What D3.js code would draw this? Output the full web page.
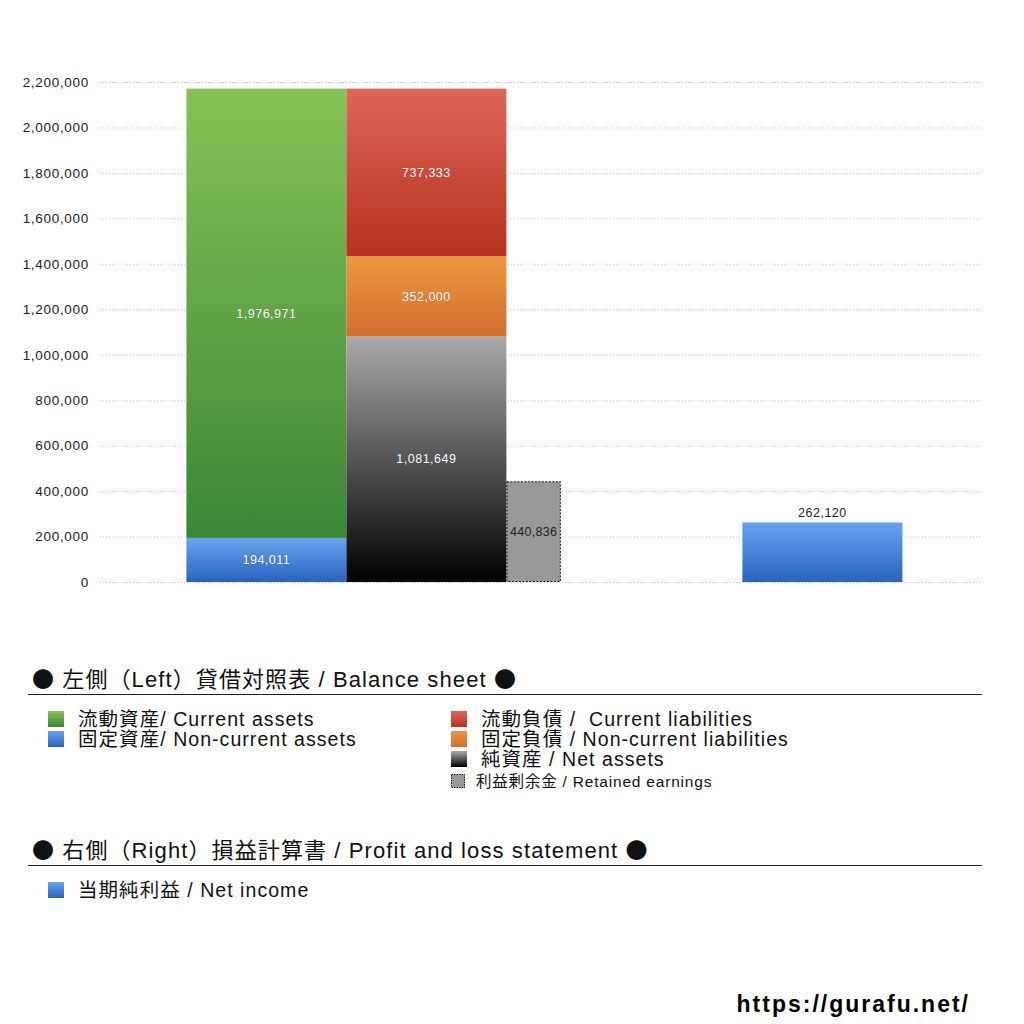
<!DOCTYPE html>
<html>
<head>
<meta charset="utf-8">
<script src="https://cdn.jsdelivr.net/npm/d3@7"></script>
<style>
    body { margin: 0; background: #fff; }
    svg { display: block; }
    text { font-family: "Liberation Sans", "Noto Sans CJK JP", sans-serif; white-space: pre; }
</style>
</head>
<body>
<svg id="chart" width="1024" height="1024"></svg>
<script>
// 値 (円)
const assetNames = ['固定資産', '流動資産'];
const assetValues = [194011, 1976971];
const liabilityNames = ['純資産', '固定負債', '流動負債'];
const liabilityValues = [1081649, 352000, 737333];
const retainedEarnings = 440836;
const netIncome = 262120;
const yTicks = [0, 200000, 400000, 600000, 800000, 1000000, 1200000, 1400000, 1600000, 1800000, 2000000, 2200000];

// 列の位置 (列単位)
const columns = {
    assets: { start: 0, width: 1 },
    liabilities: { start: 1, width: 1 },
    retained: { start: 2, width: 0.34 },
    income: { start: 3.475, width: 1 }
};

const gradients = {
    '流動資産': ['#86c257', '#3b8736'],
    '固定資産': ['#67a4f0', '#2b63bd'],
    '流動負債': ['#de665b', '#b7311d'],
    '固定負債': ['#e9993f', '#d36e2f'],
    '純資産': ['#aaaaaa', '#000000'],
    '当期純利益': ['#67a4f0', '#2b63bd']
};

const svg = d3.select('#chart');
const fmt = d3.format(',');

const y = d3.scaleLinear().domain([0, 2200000]).range([582, 82]);
const x = d3.scaleLinear().domain([-0.54, 4.96]).range([100, 980]);

// グラデーション
const defs = svg.append('defs');
Object.keys(gradients).forEach((k, i) => {
    const g = defs.append('linearGradient')
        .attr('id', 'grad' + i)
        .attr('x1', 0).attr('y1', 0).attr('x2', 0).attr('y2', 1);
    g.append('stop').attr('offset', '0%').attr('stop-color', gradients[k][0]);
    g.append('stop').attr('offset', '100%').attr('stop-color', gradients[k][1]);
    gradients[k].id = 'url(#grad' + i + ')';
});

// 目盛り線
const yAxis = d3.axisLeft(y)
    .tickValues(yTicks)
    .tickSize(-(980 - 100))
    .tickPadding(11)
    .tickFormat(fmt);
const axisG = svg.append('g')
    .attr('transform', 'translate(100,0)')
    .call(yAxis);
axisG.select('.domain').remove();
axisG.selectAll('.tick line')
    .attr('stroke', '#c8c8c8')
    .attr('stroke-dasharray', '1,2');
axisG.selectAll('.tick text')
    .attr('fill', '#222')
    .attr('font-family', '"Liberation Sans", sans-serif')
    .attr('font-size', 13.5)
    .attr('letter-spacing', 0.7);

// 積み上げ
const stackSegments = (names, values, col) => {
    let base = 0;
    return names.map((n, i) => {
        const seg = { name: n, value: values[i], y0: base, y1: base + values[i], col: col };
        base += values[i];
        return seg;
    });
};
const segments = stackSegments(assetNames, assetValues, columns.assets)
    .concat(stackSegments(liabilityNames, liabilityValues, columns.liabilities));

const barsG = svg.append('g');
barsG.selectAll('rect.seg')
    .data(segments)
    .enter().append('rect')
    .attr('class', 'seg')
    .attr('x', (d) => x(d.col.start))
    .attr('width', (d) => x(d.col.start + d.col.width) - x(d.col.start))
    .attr('y', (d) => y(d.y1))
    .attr('height', (d) => y(d.y0) - y(d.y1))
    .attr('fill', (d) => gradients[d.name].id);

barsG.selectAll('text.seg')
    .data(segments)
    .enter().append('text')
    .attr('class', 'seg')
    .attr('x', (d) => x(d.col.start + d.col.width / 2))
    .attr('y', (d) => y((d.y0 + d.y1) / 2))
    .attr('dy', '0.35em')
    .attr('text-anchor', 'middle')
    .attr('font-size', 12.5)
    .attr('letter-spacing', 0.5)
    .attr('fill', '#fff')
    .attr('stroke', 'rgba(0,0,0,0.25)')
    .attr('stroke-width', 0.6)
    .attr('paint-order', 'stroke')
    .text((d) => fmt(d.value));

// 利益剰余金
const rc = columns.retained;
barsG.append('rect')
    .attr('x', x(rc.start) + 0.5)
    .attr('width', x(rc.start + rc.width) - x(rc.start) - 1)
    .attr('y', y(retainedEarnings))
    .attr('height', y(0) - y(retainedEarnings) - 0.5)
    .attr('fill', '#999')
    .attr('stroke', '#111')
    .attr('stroke-dasharray', '2,1.5');
barsG.append('text')
    .attr('x', x(rc.start + rc.width / 2))
    .attr('y', y(retainedEarnings / 2))
    .attr('dy', '0.35em')
    .attr('text-anchor', 'middle')
    .attr('font-size', 12.5)
    .attr('letter-spacing', 0.3)
    .attr('fill', '#222')
    .text(fmt(retainedEarnings));

// 当期純利益
const ic = columns.income;
barsG.append('rect')
    .attr('x', x(ic.start))
    .attr('width', x(ic.start + ic.width) - x(ic.start))
    .attr('y', y(netIncome))
    .attr('height', y(0) - y(netIncome))
    .attr('fill', gradients['当期純利益'].id);
barsG.append('text')
    .attr('x', x(ic.start + ic.width / 2))
    .attr('y', y(netIncome) - 5)
    .attr('text-anchor', 'middle')
    .attr('font-size', 12.5)
    .attr('letter-spacing', 0.5)
    .attr('fill', '#222')
    .text(fmt(netIncome));

// 凡例
const legend = svg.append('g');
const dotFont = '"Noto Sans CJK JP", sans-serif';
const sectionTitle = (text, ty) => {
    const t = legend.append('text')
        .attr('x', 32).attr('y', ty)
        .attr('font-size', 22)
        .attr('letter-spacing', 1.1)
        .attr('fill', '#111');
    t.append('tspan').attr('font-family', dotFont).text('●');
    t.append('tspan').text(' ' + text + ' ');
    t.append('tspan').attr('font-family', dotFont).text('●');
    legend.append('line')
        .attr('x1', 28).attr('x2', 982)
        .attr('y1', ty + 7.5).attr('y2', ty + 7.5)
        .attr('stroke', '#222').attr('stroke-width', 1);
};
sectionTitle('左側（Left）貸借対照表 / Balance sheet', 687);
sectionTitle('右側（Right）損益計算書 / Profit and loss statement', 858);

const legendItems = [
    { key: '流動資産', label: '流動資産/ Current assets', x: 48, y: 719 },
    { key: '固定資産', label: '固定資産/ Non-current assets', x: 48, y: 739 },
    { key: '流動負債', label: '流動負債 /  Current liabilities', x: 451, y: 719 },
    { key: '固定負債', label: '固定負債 / Non-current liabilities', x: 451, y: 739 },
    { key: '純資産', label: '純資産 / Net assets', x: 451, y: 759 },
    { key: '当期純利益', label: '当期純利益 / Net income', x: 48, y: 890 }
];
legendItems.forEach((d) => {
    legend.append('rect')
        .attr('x', d.x).attr('y', d.y - 8)
        .attr('width', 16).attr('height', 16)
        .attr('fill', gradients[d.key].id);
    legend.append('text')
        .attr('x', d.x + 30).attr('y', d.y)
        .attr('dy', '0.36em')
        .attr('font-size', 19.5)
        .attr('letter-spacing', 1.05)
        .attr('fill', '#111')
        .text(d.label);
});
legend.append('rect')
    .attr('x', 451.5).attr('y', 774.5)
    .attr('width', 13).attr('height', 13)
    .attr('fill', '#999')
    .attr('stroke', '#111')
    .attr('stroke-dasharray', '1.5,1');
legend.append('text')
    .attr('x', 476).attr('y', 781)
    .attr('dy', '0.36em')
    .attr('font-size', 15.5)
    .attr('letter-spacing', 0.8)
    .attr('fill', '#111')
    .text('利益剰余金 / Retained earnings');

svg.append('text')
    .attr('x', 970).attr('y', 1012)
    .attr('text-anchor', 'end')
    .attr('font-size', 23)
    .attr('font-weight', 'bold')
    .attr('letter-spacing', 2)
    .attr('fill', '#000')
    .text('https://gurafu.net/');
</script>
</body>
</html>
